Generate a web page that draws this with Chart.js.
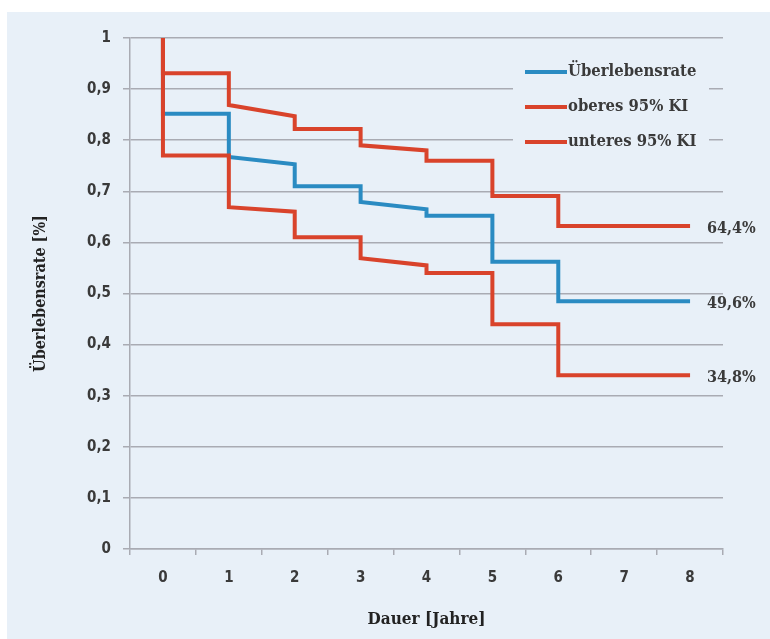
<!DOCTYPE html>
<html>
<head>
<meta charset="utf-8">
<script src="https://cdn.jsdelivr.net/npm/chart.js@4.4.0/dist/chart.umd.min.js"></script>
<style>
  html, body { margin: 0; padding: 0; background: #ffffff; }
  .panel { position: absolute; left: 7px; top: 12px; width: 763px; height: 627px; background: #e8f0f8; }
</style>
</head>
<body>
<div class="panel"><canvas id="myChart" width="763" height="627"></canvas></div>
<script>
const seriesNames = ["Überlebensrate", "oberes 95% KI", "unteres 95% KI"];
const endLabels = ["49,6%", "64,4%", "34,8%"];
const xTickLabels = ["0", "1", "2", "3", "4", "5", "6", "7", "8"];
const yTickLabels = ["0", "0,1", "0,2", "0,3", "0,4", "0,5", "0,6", "0,7", "0,8", "0,9", "1"];

// step curves: x in years, y as rate
const survX = [0, 0, 1, 1, 2, 2, 3, 3, 4, 4, 5, 5, 6, 6, 8];
const survY = [1, 0.852, 0.852, 0.767, 0.753, 0.71, 0.71, 0.679, 0.665, 0.652, 0.652, 0.562, 0.562, 0.485, 0.485];
const upperX = [0, 0, 1, 1, 2, 2, 3, 3, 4, 4, 5, 5, 6, 6, 8];
const upperY = [1, 0.931, 0.931, 0.869, 0.847, 0.822, 0.822, 0.79, 0.78, 0.76, 0.76, 0.691, 0.691, 0.632, 0.632];
const lowerX = [0, 0, 1, 1, 2, 2, 3, 3, 4, 4, 5, 5, 6, 6, 8];
const lowerY = [1, 0.77, 0.77, 0.669, 0.66, 0.61, 0.61, 0.569, 0.555, 0.54, 0.54, 0.44, 0.44, 0.34, 0.34];

const panelColor = "#e8f0f8";
const gridColor = "#a9abb3";
const textColor = "#3a3a3a";
const blue = "#2a8bc2";
const red = "#d9432b";

const toPoints = (xs, ys) => xs.map((x, i) => ({ x: x, y: ys[i] }));

const extras = {
  id: "extras",
  afterDatasetsDraw(chart) {
    const ctx = chart.ctx;
    const xs = chart.scales.x;
    const ys = chart.scales.y;
    const area = chart.chartArea;
    ctx.save();
    ctx.font = "bold 16px 'DejaVu Serif Condensed', 'DejaVu Serif'";
    ctx.fillStyle = textColor;
    ctx.textBaseline = "middle";
    chart.data.datasets.forEach((ds, i) => {
      const last = ds.data[ds.data.length - 1];
      ctx.fillText(endLabels[i], xs.getPixelForValue(last.x) + 17, ys.getPixelForValue(last.y) + 3);
    });

    // legend box on top of the grid
    const lx = area.right - 210;
    const ly = area.top + 17;
    ctx.fillStyle = panelColor;
    ctx.fillRect(lx, ly, 196, 102);
    ctx.font = "bold 16.5px 'DejaVu Serif Condensed', 'DejaVu Serif'";
    chart.data.datasets.forEach((ds, i) => {
      const y = ly + 17 + i * 35;
      ctx.strokeStyle = ds.borderColor;
      ctx.lineWidth = 4;
      ctx.beginPath();
      ctx.moveTo(lx + 12, y);
      ctx.lineTo(lx + 54, y);
      ctx.stroke();
      ctx.fillStyle = textColor;
      ctx.fillText(seriesNames[i], lx + 55, y);
    });
    ctx.restore();
  },
};

const data = {
  datasets: [
    {
      label: seriesNames[0],
      data: toPoints(survX, survY),
      borderColor: blue,
      order: 2,
    },
    {
      label: seriesNames[1],
      data: toPoints(upperX, upperY),
      borderColor: red,
      order: 1,
    },
    {
      label: seriesNames[2],
      data: toPoints(lowerX, lowerY),
      borderColor: red,
      order: 1,
    },
  ],
};

const config = {
  type: "line",
  data: data,
  plugins: [extras],
  options: {
    responsive: false,
    animation: false,
    layout: {
      padding: { left: 20, top: 26, right: 47, bottom: 6 },
    },
    elements: {
      line: { borderWidth: 4, tension: 0, borderJoinStyle: "miter", borderCapStyle: "butt", fill: false },
      point: { radius: 0, hoverRadius: 0 },
    },
    plugins: {
      legend: { display: false },
      tooltip: { enabled: false },
    },
    scales: {
      x: {
        type: "linear",
        min: -0.5,
        max: 8.5,
        afterBuildTicks: (scale) => {
          scale.ticks = xTickLabels.map((t, i) => ({ value: i }));
        },
        afterFit: (scale) => {
          scale.height = 84;
        },
        grid: {
          offset: true,
          drawOnChartArea: false,
          color: gridColor,
          lineWidth: 1.5,
          tickLength: 6,
        },
        border: { color: gridColor, width: 1.5 },
        ticks: {
          color: textColor,
          padding: 14,
          maxRotation: 0,
          font: { family: "'DejaVu Sans Condensed', 'DejaVu Sans'", size: 15, weight: "bold" },
          callback: (value, index) => xTickLabels[index],
        },
        title: {
          display: true,
          text: "Dauer [Jahre]",
          color: "#222222",
          font: { family: "'DejaVu Serif Condensed', 'DejaVu Serif'", size: 17, weight: "bold" },
          padding: { top: 4, bottom: 3 },
        },
      },
      y: {
        min: 0,
        max: 1,
        afterFit: (scale) => {
          scale.width = 103;
        },
        grid: {
          color: gridColor,
          lineWidth: 1.5,
          tickLength: 7,
        },
        border: { color: gridColor, width: 1.5 },
        ticks: {
          stepSize: 0.1,
          color: textColor,
          padding: 12,
          font: { family: "'DejaVu Sans Condensed', 'DejaVu Sans'", size: 15, weight: "bold" },
          callback: (value, index) => yTickLabels[index],
        },
        title: {
          display: true,
          text: "Überlebensrate [%]",
          color: "#222222",
          font: { family: "'DejaVu Serif Condensed', 'DejaVu Serif'", size: 16, weight: "bold" },
          padding: { top: 4, bottom: 4 },
        },
      },
    },
  },
};

const myChart = new Chart(document.getElementById("myChart"), config);
</script>
</body>
</html>
